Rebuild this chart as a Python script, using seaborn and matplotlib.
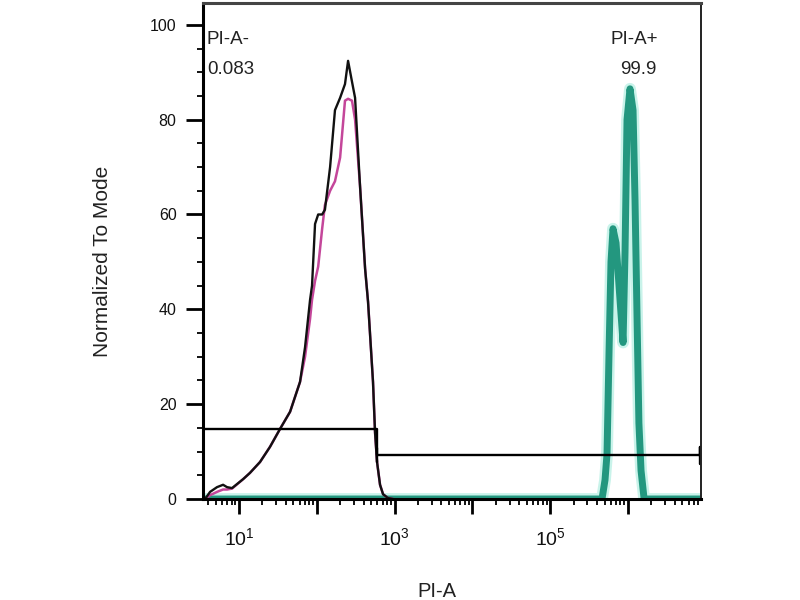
import numpy as np
import pandas as pd
import seaborn as sns
import matplotlib
matplotlib.use("Agg")
import matplotlib.pyplot as plt
from matplotlib.ticker import FixedLocator, NullFormatter

# --- data ---
# control (black) and second control (pink) histograms, PI-A intensity
ctrl_x = [3.66, 4.24, 5.21, 6.23, 7.01, 8.13, 11.3, 13.8, 18.6, 25.0, 33.7, 45.3,
          60.8, 70.5, 81.8, 86.7, 94.8, 104, 117, 127, 148, 171, 199, 230, 252,
          283, 310, 359, 417, 455, 527, 560, 594, 649, 710, 822, 953]
black_y = [0, 1.5, 2.5, 3.0, 2.5, 2.3, 4.2, 5.5, 7.8, 11, 14.8, 18.4,
           24.7, 32, 42, 45, 58, 60, 60, 61, 70, 82, 84.6, 87.5, 92.4,
           88, 84.6, 66, 48.6, 41.6, 24.7, 14, 7.8, 3, 1, 0.2, 0]
pink_y = [0, 0.8, 1.5, 2.0, 2.0, 2.2, 4.2, 5.5, 7.8, 11, 14.8, 18.4,
          24.7, 30, 38, 42, 46, 49, 57, 62, 65, 67, 72, 84, 84.4,
          84, 80, 66, 48.6, 41.6, 24.7, 14, 7.8, 3, 1, 0.2, 0]

# stained sample (teal)
pi_x = [3.44, 4.63e5, 5.06e5, 5.37e5, 5.70e5, 6.04e5, 6.41e5, 7.01e5, 7.89e5,
        8.63e5, 9.15e5, 9.71e5, 1.06e6, 1.16e6, 1.23e6, 1.31e6, 1.38e6,
        1.47e6, 1.61e6, 8.67e6]
pi_y = [0, 0, 4, 9.5, 31, 50, 57, 54, 42, 33, 52, 80, 86.5, 82, 63, 37, 16,
        6, 0, 0]

# gates
gate_neg_x = [3.44, 594, 594]
gate_neg_y = [14.8, 14.8, 7.8]
gate_pos_x = [594, 594, 8.5e6, 8.5e6, 8.5e6]
gate_pos_y = [10.8, 9.3, 9.3, 11.0, 7.4]

gate_labels = ["PI-A-", "PI-A+"]
gate_pcts = ["0.083", "99.9"]

x_major = [1e1, 1e2, 1e3, 1e4, 1e5, 1e6]
x_major_labels = [r"$10^{1}$", "", r"$10^{3}$", "", r"$10^{5}$", ""]

ctrl_df = pd.DataFrame({"x": ctrl_x, "black": black_y, "pink": pink_y})
pi_df = pd.DataFrame({"x": pi_x, "y": pi_y})

sns.set_style("ticks")
plt.rcParams["font.family"] = ["Liberation Sans", "DejaVu Sans"]
plt.rcParams["mathtext.default"] = "regular"

fig = plt.figure(figsize=(8, 6), dpi=100)
ax = fig.add_axes([203 / 800, 1 - 499 / 600, 498 / 800, 496 / 600])

# stained sample with light halo
sns.lineplot(data=pi_df, x="x", y="y", ax=ax, color="#c9f3ea", lw=8.5,
             estimator=None, sort=False, solid_capstyle="round")
sns.lineplot(data=pi_df, x="x", y="y", ax=ax, color="#23977f", lw=5,
             estimator=None, sort=False, solid_joinstyle="round")
# controls
sns.lineplot(data=ctrl_df, x="x", y="pink", ax=ax, color="#c4469a", lw=1.8,
             estimator=None, sort=False, solid_joinstyle="round")
sns.lineplot(data=ctrl_df, x="x", y="black", ax=ax, color="#111111", lw=1.7,
             estimator=None, sort=False, solid_joinstyle="round")

# gates
ax.plot(gate_neg_x, gate_neg_y, color="black", lw=1.7)
ax.plot(gate_pos_x, gate_pos_y, color="black", lw=1.7)

ax.set_xscale("log")
ax.set_xlim(3.44, 8.67e6)
ax.set_ylim(0, 104.6)

ax.set_xticks(x_major, labels=x_major_labels)
minors = [v * 10.0 ** e for e in range(0, 7) for v in range(2, 10)]
minors = [m for m in minors if 3.44 < m < 8.67e6]
ax.xaxis.set_minor_locator(FixedLocator(minors))
ax.xaxis.set_minor_formatter(NullFormatter())
ax.set_yticks([0, 20, 40, 60, 80, 100])
ax.yaxis.set_minor_locator(FixedLocator([v for v in range(5, 105, 5) if v % 20]))

ax.tick_params(axis="x", which="major", length=11, width=2, pad=9,
               labelsize=14, color="black", labelcolor="#111111")
ax.tick_params(axis="x", which="minor", length=4, width=1.3, color="black")
ax.tick_params(axis="y", which="major", length=12, width=2, pad=7,
               labelsize=11.5, color="black", labelcolor="#111111")
ax.tick_params(axis="y", which="minor", length=4, width=1.3, color="black")

for side in ["left", "bottom"]:
    ax.spines[side].set_linewidth(2.2)
    ax.spines[side].set_color("black")
ax.spines["right"].set_linewidth(1.4)
ax.spines["right"].set_color("#222222")
ax.spines["top"].set_linewidth(2.2)
ax.spines["top"].set_color("#444444")

ax.set_xlabel("PI-A", fontsize=14.5, color="#222222")
ax.set_ylabel("Normalized To Mode", fontsize=15, color="#222222")
ax.xaxis.set_label_coords(0.47, -0.168)
ax.yaxis.set_label_coords(-0.183, 0.48)

ax.text(0.008, 0.927, gate_labels[0], transform=ax.transAxes, fontsize=13.5,
        ha="left", va="center", color="#222222")
ax.text(0.008, 0.866, gate_pcts[0], transform=ax.transAxes, fontsize=13.5,
        ha="left", va="center", color="#222222")
ax.text(0.865, 0.927, gate_labels[1], transform=ax.transAxes, fontsize=13.5,
        ha="center", va="center", color="#222222")
ax.text(0.875, 0.866, gate_pcts[1], transform=ax.transAxes, fontsize=13.5,
        ha="center", va="center", color="#222222")

fig.savefig("out.png", dpi=100)
